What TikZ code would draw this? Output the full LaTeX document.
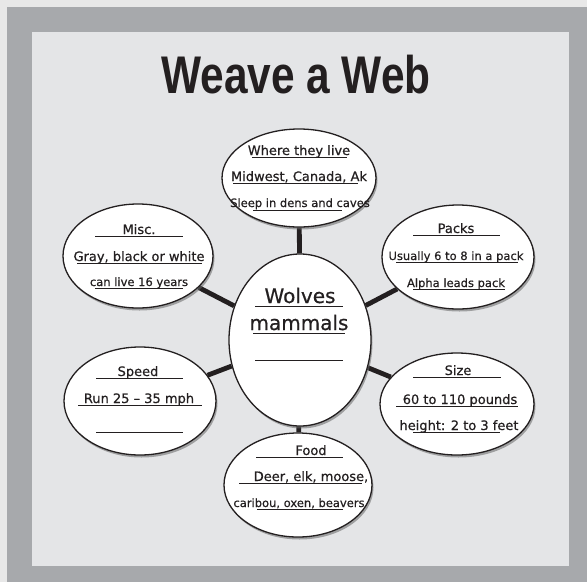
\documentclass[tikz,border=0pt]{standalone}
\usepackage{fontspec}
\setmainfont[FakeBold=0.6]{DejaVu Sans}
\newfontfamily\titlefont{Liberation Sans}
\usetikzlibrary{shapes.geometric,shadows}
\pgfdeclarelayer{bg}
\pgfdeclarelayer{links}
\pgfsetlayers{bg,links,main}
\definecolor{pagebg}{RGB}{232,232,232}
\definecolor{framegray}{RGB}{167,169,172}
\definecolor{panelgray}{RGB}{228,229,231}
\definecolor{inkblack}{RGB}{35,31,32}
\tikzset{
  bubble/.style={ellipse,draw=inkblack,line width=1.3pt,fill=white,inner sep=0pt,
    drop shadow={shadow xshift=1.5pt,shadow yshift=-2.5pt,fill=black!60,opacity=0.55}},
  link/.style={line width=4.8pt,draw=inkblack},
  formline/.style={line width=1pt,draw=inkblack},
  txt/.style={inner sep=0pt,anchor=base,text=inkblack,font=\fontsize{13}{15}\selectfont},
  smalltxt/.style={txt,font=\fontsize{11.5}{13}\selectfont},
  bigtxt/.style={txt,font=\fontsize{20}{22}\selectfont}
}
\begin{document}
\begin{tikzpicture}[x=1pt,y=-1pt]
		\useasboundingbox (0,0) rectangle (587,582);
		
		%Shape: Rectangle (page, frame, panel)
		\begin{pgfonlayer}{bg}
		\fill[pagebg] (0,0) rectangle (587,582);
		\fill[framegray] (7,7) rectangle (587,582);
		\fill[panelgray] (32,32) rectangle (569,566);
		\end{pgfonlayer}
		
		% Title
		\node[inner sep=0pt,anchor=base,text=inkblack] (title) at (296,93) {\scalebox{0.8}[1]{\titlefont\bfseries\fontsize{53}{60}\selectfont Weave a Web}};
		
		%Shape: Ellipse
		\node[bubble,minimum width=142,minimum height=172] (hub) at (300,340) {};
		\node[bubble,minimum width=154,minimum height=98] (where) at (299,178) {};
		\node[bubble,minimum width=150,minimum height=104] (misc) at (138,256) {};
		\node[bubble,minimum width=152,minimum height=104] (packs) at (458,257) {};
		\node[bubble,minimum width=152,minimum height=108] (speed) at (140,401) {};
		\node[bubble,minimum width=154,minimum height=102] (size) at (457,404) {};
		\node[bubble,minimum width=148,minimum height=104] (food) at (298,485) {};
		
		% Connectors
		\begin{pgfonlayer}{links}
		\draw[link] (hub) -- (where);
		\draw[link] (hub) -- (misc);
		\draw[link] (hub) -- (packs);
		\draw[link] (hub) -- (speed);
		\draw[link] (hub) -- (size);
		\draw[link] (hub) -- (food);
		\end{pgfonlayer}
		
		% Form lines
		\draw[formline] (255,306) -- (343,306);
		\draw[formline] (253,333) -- (345,333);
		\draw[formline] (255,360) -- (343,360);
		\draw[formline] (252,157) -- (347,157);
		\draw[formline] (233,183) -- (358,183);
		\draw[formline] (253,210) -- (342,210);
		\draw[formline] (95,236) -- (183,236);
		\draw[formline] (77,263) -- (202,263);
		\draw[formline] (95,288) -- (183,288);
		\draw[formline] (413,235) -- (500,235);
		\draw[formline] (396,262) -- (518,262);
		\draw[formline] (413,289) -- (505,289);
		\draw[formline] (96,378) -- (183,378);
		\draw[formline] (78,405) -- (202,405);
		\draw[formline] (96,432) -- (183,432);
		\draw[formline] (413,377) -- (501,377);
		\draw[formline] (396,406) -- (518,406);
		\draw[formline] (413,432) -- (500,432);
		\draw[formline] (256,457) -- (343,457);
		\draw[formline] (239,483) -- (362,483);
		\draw[formline] (257,509) -- (343,509);
		
		% Text Node
		\node[bigtxt] (hub1) at (300,303) {Wolves};
		\node[bigtxt] (hub2) at (299,330) {mammals};
		% Text Node
		\node[txt] (where1) at (299,155) {Where they live};
		\node[txt] (where2) at (299,181) {Midwest, Canada, Ak};
		\node[smalltxt] (where3) at (300,207) {Sleep in dens and caves};
		% Text Node
		\node[txt] (misc1) at (139,234) {Misc.};
		\node[txt] (misc2) at (139,261) {Gray, black or white};
		\node[smalltxt] (misc3) at (139,286) {can live 16 years};
		% Text Node
		\node[txt] (packs1) at (456,233) {Packs};
		\node[smalltxt] (packs2) at (456,260) {Usually 6 to 8 in a pack};
		\node[smalltxt] (packs3) at (456,287) {Alpha leads pack};
		% Text Node
		\node[txt] (speed1) at (138,376) {Speed};
		\node[txt] (speed2) at (139,403) {Run 25 – 35 mph};
		% Text Node
		\node[txt] (size1) at (458,375) {Size};
		\node[txt] (size2) at (460,404) {60 to 110 pounds};
		\node[txt] (size3) at (459,430) {height: 2 to 3 feet};
		% Text Node
		\node[txt] (food1) at (311,455) {Food};
		\node[txt] (food2) at (311,481) {Deer, elk, moose,};
		\node[smalltxt] (food3) at (299,507) {caribou, oxen, beavers};
	\end{tikzpicture}
\end{document}
